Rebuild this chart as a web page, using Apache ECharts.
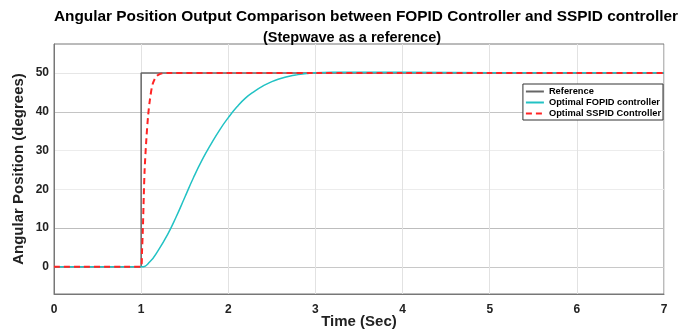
<!DOCTYPE html>
<html>
<head>
<meta charset="utf-8">
<script src="https://cdn.jsdelivr.net/npm/echarts@6/dist/echarts.min.js"></script>
<style>
  html, body { margin: 0; padding: 0; background: #fff; }
  #chart { width: 683px; height: 330px; }
</style>
</head>
<body>
<div id="chart"></div>
<script>
// step reference
const refTime = [0, 1, 1, 7]
const refValue = [0, 0, 50, 50]

// optimal FOPID response
const fopidTime = [0, 1.0, 1.1, 1.2, 1.3, 1.4, 1.5, 1.6, 1.7, 1.8, 1.9, 2.0, 2.1, 2.2, 2.3, 2.4, 2.5, 2.6, 2.7, 2.8, 2.9, 3.0, 3.2, 3.5, 4.0, 5.0, 6.0, 7.0]
const fopidValue = [0, 0, 1.3, 4.4, 8.2, 12.8, 17.9, 23.0, 27.6, 31.6, 35.3, 38.5, 41.3, 43.6, 45.3, 46.7, 47.8, 48.6, 49.2, 49.6, 49.9, 50.1, 50.2, 50.2, 50.2, 50.1, 50.1, 50.1]

// optimal SSPID response
const sspidTime = [0, 1.0, 1.01, 1.02, 1.03, 1.04, 1.06, 1.08, 1.10, 1.13, 1.17, 1.22, 1.3, 2.0, 3.0, 4.0, 5.0, 6.0, 7.0]
const sspidValue = [0, 0, 4, 10, 18, 25, 33, 39, 43, 47, 49, 49.8, 50, 50, 50, 50, 50, 50, 50]

const xTicks = [0, 1, 2, 3, 4, 5, 6, 7]
const yTicks = [0, 10, 20, 30, 40, 50]

const zip = (xs, ys) => xs.map((x, i) => [x, ys[i]])

const chart = echarts.init(document.getElementById('chart'))

const font = 'Liberation Sans, Arial, sans-serif'

const option = {
  animation: false,
  title: [
    {
      text: 'Angular Position Output Comparison between FOPID Controller and SSPID controller',
      left: 361,
      textAlign: 'center',
      top: 4,
      textStyle: { fontFamily: font, fontSize: 15.4, fontWeight: 'bold', color: '#000' }
    },
    {
      text: '(Stepwave as a reference)',
      left: 347,
      textAlign: 'center',
      top: 25,
      textStyle: { fontFamily: font, fontSize: 14.5, fontWeight: 'bold', color: '#000' }
    }
  ],
  legend: {
    right: 20,
    top: 84,
    orient: 'vertical',
    itemWidth: 18,
    itemHeight: 9,
    itemGap: 2,
    padding: [3, 2, 2, 2],
    backgroundColor: '#fff',
    borderColor: '#333',
    borderWidth: 1,
    borderRadius: 0,
    itemStyle: { opacity: 0 },
    textStyle: { fontFamily: font, fontSize: 9.3, fontWeight: 'bold', color: '#000' },
    data: ['Reference', 'Optimal FOPID controller', 'Optimal SSPID Controller']
  },
  grid: {
    left: 54, right: 19, top: 44, bottom: 36,
    outerBoundsMode: 'none',
    containLabel: false,
    show: true,
    borderColor: '#777',
    borderWidth: 1
  },
  xAxis: {
    type: 'value',
    min: 0,
    max: 7,
    interval: 1,
    name: 'Time (Sec)',
    nameLocation: 'middle',
    nameGap: 20,
    nameMoveOverlap: false,
    nameTextStyle: { fontFamily: font, fontSize: 15, fontWeight: 'bold', color: '#222' },
    axisLine: { onZero: false, lineStyle: { color: '#777' } },
    axisTick: { show: false },
    axisLabel: {
      fontFamily: font, fontSize: 12, fontWeight: 'bold', color: '#222', margin: 10,
      formatter: v => xTicks.includes(v) ? String(v) : ''
    },
    splitLine: { show: true, lineStyle: { color: '#e2e2e2', width: 1 } }
  },
  yAxis: {
    type: 'value',
    min: -7,
    max: 57.5,
    name: 'Angular Position (degrees)',
    nameLocation: 'middle',
    nameGap: 28,
    nameMoveOverlap: false,
    nameTextStyle: { fontFamily: font, fontSize: 15, fontWeight: 'bold', color: '#222' },
    axisLine: { show: true, onZero: false, lineStyle: { color: '#777' } },
    axisTick: { show: false, customValues: yTicks },
    axisLabel: {
      fontFamily: font, fontSize: 12, fontWeight: 'bold', color: '#222', margin: 5,
      customValues: yTicks
    },
    splitLine: { show: true, lineStyle: { color: ['#c8c8c8', '#bdbdbd', '#ececec', '#ececec', '#c4c4c4', '#e6e6e6'], width: 1 } }
  },
  series: [
    {
      name: 'Reference',
      type: 'line',
      data: zip(refTime, refValue),
      symbol: 'none',
      color: '#666',
      lineStyle: { color: '#666', width: 1.5 },
      z: 2
    },
    {
      name: 'Optimal FOPID controller',
      type: 'line',
      data: zip(fopidTime, fopidValue),
      symbol: 'none',
      smooth: 0.5,
      color: '#22c2c4',
      lineStyle: { color: '#22c2c4', width: 1.5 },
      z: 3
    },
    {
      name: 'Optimal SSPID Controller',
      type: 'line',
      data: zip(sspidTime, sspidValue),
      symbol: 'none',
      smooth: 0.3,
      color: '#ff2424',
      lineStyle: { color: '#ff2424', width: 2, type: [6, 4] },
      z: 4
    }
  ]
}

chart.setOption(option)
</script>
</body>
</html>
